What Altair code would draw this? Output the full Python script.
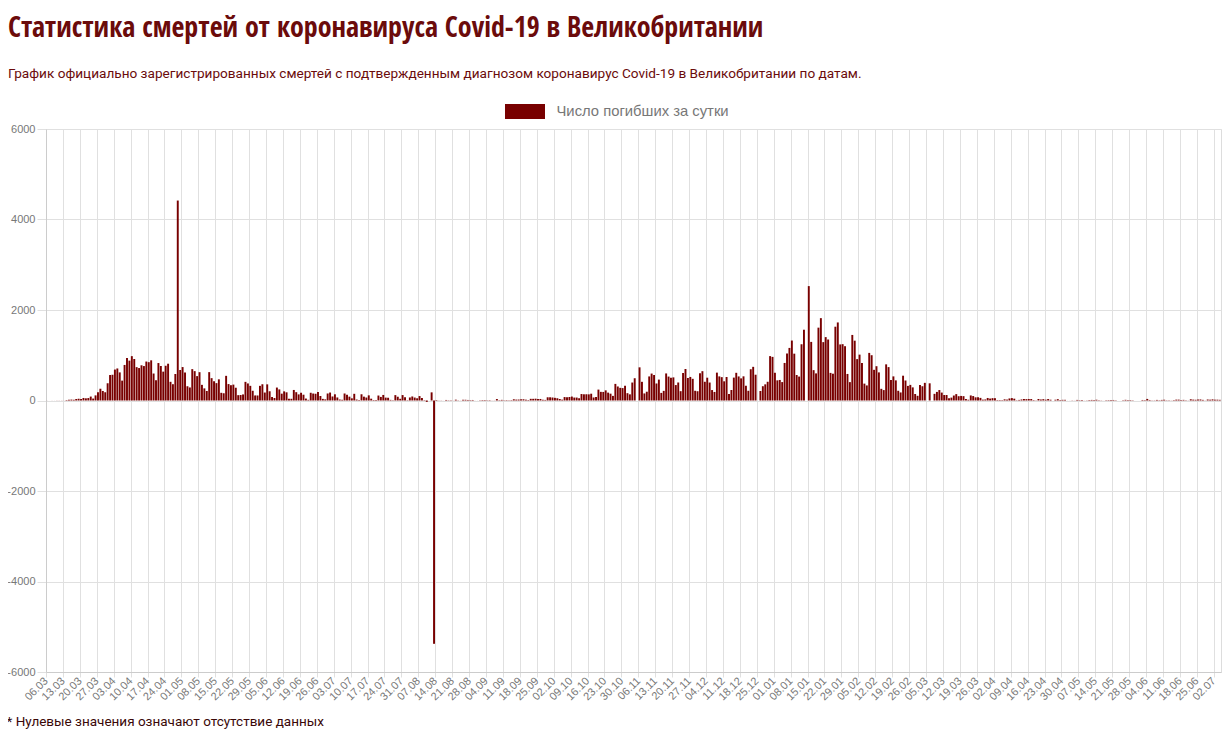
import json
import altair as alt
import pandas as pd

START_DATE = "2020-03-06"
SERIES_NAME = "Число погибших за сутки"
TITLE = "Статистика смертей от коронавируса Covid-19 в Великобритании"
SUBTITLE = ("График официально зарегистрированных смертей с подтвержденным диагнозом "
            "коронавирус Covid-19 в Великобритании по датам.")
FOOTNOTE = "* Нулевые значения означают отсутствие данных"

# daily deaths, one row per week (Friday .. Thursday), starting 06.03.2020
deaths_2020_spring = [
    1, 0, 1, 1, 2, 2, 2,
    1, 10, 14, 20, 16, 33, 40,
    33, 56, 48, 54, 87, 43, 113,
    181, 260, 209, 180, 381, 563, 569,
    684, 708, 621, 439, 786, 938, 881,
    980, 917, 737, 717, 778, 761, 861,
    847, 888, 596, 449, 828, 763, 638,
    768, 813, 413, 360, 586, 4419, 674,
    739, 621, 315, 288, 693, 649, 539,
    626, 346, 268, 210, 627, 494, 428,
    384, 468, 170, 160, 545, 363, 338,
    351, 282, 118, 121, 134, 412, 377,
    324, 215, 113, 111, 324, 359, 176,
]
deaths_2020_summer = [
    357, 204, 77, 55, 286, 245, 151,
    202, 181, 36, 38, 233, 184, 135,
    173, 128, 43, 15, 171, 154, 149,
    186, 100, 36, 25, 155, 176, 89,
    137, 67, 22, 16, 155, 126, 85,
    48, 148, 21, 11, 138, 85, 66,
    114, 40, 11, 11, 110, 79, 123,
    64, 61, 14, 7, 119, 83, 38,
    120, 74, 8, 67, 89, 65, 49,
    98, 55, 8, -30, 0, 180, -5377,
    11, 3, 3, 1, 12, 6, 6,
    2, 18, 5, 2, 16, 16, 12,
    9, 12, 1, 1, 3, 10, 10,
]
deaths_2020_autumn = [
    6, 8, 2, 3, 32, 8, 14,
    6, 9, 5, 9, 27, 20, 21,
    27, 27, 18, 11, 37, 37, 40,
    34, 34, 17, 13, 71, 71, 66,
    59, 49, 33, 19, 76, 70, 77,
    87, 65, 65, 50, 143, 137, 138,
    136, 150, 67, 80, 241, 191, 189,
    224, 174, 151, 102, 367, 310, 280,
    274, 326, 162, 136, 397, 492, 0,
    733, 413, 156, 194, 532, 595, 563,
    376, 462, 168, 213, 598, 529, 501,
    511, 341, 398, 206, 608, 696, 498,
    521, 479, 215, 205, 603, 648, 414,
    504, 397, 231, 189, 616, 533, 516,
    424, 519, 144, 232, 506, 612, 532,
    489, 534, 326, 215, 691, 744, 570,
    0, 210, 316, 357, 414, 981, 964,
]
deaths_2021_winter = [
    613, 445, 454, 407, 830, 1041, 1162,
    1325, 1035, 563, 529, 1243, 1564, 0,
    2528, 1295, 671, 599, 1610, 1820, 1290,
    1401, 1348, 610, 592, 1631, 1725, 1239,
    1245, 1200, 587, 406, 1449, 1322, 915,
    1014, 828, 373, 333, 1052, 1001, 678,
    758, 621, 258, 230, 799, 738, 454,
    533, 445, 215, 178, 548, 442, 323,
    345, 290, 144, 104, 343, 315, 390,
    0, 380, 0, 147, 190, 231, 175,
    121, 121, 52, 64, 110, 141, 95,
    101, 96, 33, 17, 112, 98, 70,
    70, 58, 19, 23, 56, 43, 52,
]
deaths_2021_spring = [
    51, 10, 10, 9, 26, 20, 45,
    53, 40, 7, 13, 23, 33, 30,
    34, 32, 10, 4, 33, 22, 29,
    18, 32, 17, 1, 17, 29, 11,
    15, 15, 1, 1, 4, 2, 13,
    8, 10, 2, 4, 10, 13, 11,
    17, 7, 4, 1, 7, 9, 9,
    12, 6, 0, 0, 7, 15, 10,
    10, 6, 0, 0, 0, 12, 9,
    35, 12, 4, 5, 13, 7, 13,
    17, 6, 8, 3, 9, 19, 19,
    11, 14, 6, 3, 27, 19, 16,
    21, 23, 14, 3, 22, 18, 25,
    18, 18, 15,
]

deaths = (deaths_2020_spring + deaths_2020_summer + deaths_2020_autumn
          + deaths_2021_winter + deaths_2021_spring)
n_days = len(deaths)

dates = pd.date_range(START_DATE, periods=n_days, freq="D")
tick_days = list(range(0, n_days, 7))
tick_labels = [dates[d].strftime("%d.%m") for d in tick_days]
y_ticks = [-6000, -4000, -2000, 0, 2000, 4000, 6000]

df = pd.DataFrame({
    "day": list(range(n_days)),
    "deaths": deaths,
    "date": [d.strftime("%d.%m.%Y") for d in dates],
})

NARROW = ("'Noto Sans ExtraCondensed', 'Noto Sans Condensed', 'Liberation Sans Narrow', "
          "'Ubuntu Condensed', 'Open Sans Condensed', Roboto")
TEXT_FONT = "Roboto, 'Liberation Sans', sans-serif"
SANS = "'Liberation Sans', Arial, sans-serif"
DARK_RED = "#6b0b0b"
BAR_RED = "#780000"
GRID = "#e0e0e0"

label_expr = json.dumps(tick_labels) + "[round(datum.value / 7)]"

chart = alt.Chart(df).mark_bar().transform_calculate(
    x0="datum.day + 0.1",
    x1="datum.day + 0.9",
    series="'" + SERIES_NAME + "'",
).encode(
    x=alt.X(
        "x0:Q",
        scale=alt.Scale(domain=[0, n_days], nice=False, zero=False),
        axis=alt.Axis(
            values=tick_days,
            labelExpr=label_expr,
            labelAngle=-45,
            labelAlign="right",
            labelBaseline="middle",
            labelPadding=2,
            labelOverlap=False,
            labelFont=SANS,
            labelFontSize=11,
            labelColor="#777777",
            grid=True,
            gridColor=GRID,
            tickColor=GRID,
            tickSize=5,
            domainColor="#cccccc",
            title=FOOTNOTE,
            titleX=-40,
            titleY=53,
            titleAlign="left",
            titleBaseline="alphabetic",
            titleAnchor="start",
            titleFont=TEXT_FONT,
            titleFontSize=13.5,
            titleFontWeight="normal",
            titleColor="#3a0808",
        ),
    ),
    x2="x1:Q",
    y=alt.Y(
        "deaths:Q",
        scale=alt.Scale(domain=[-6000, 6000], nice=False),
        axis=alt.Axis(
            values=y_ticks,
            labelExpr="'' + datum.value",
            labelFont=SANS,
            labelFontSize=11,
            labelColor="#777777",
            labelPadding=2,
            grid=True,
            gridColor=GRID,
            tickColor=GRID,
            tickSize=9,
            domainColor="#cccccc",
            title=None,
        ),
    ),
    y2=alt.datum(0),
    color=alt.Color(
        "series:N",
        scale=alt.Scale(range=[BAR_RED]),
        legend=alt.Legend(
            title=None,
            orient="none",
            legendX=471.5,
            legendY=-25,
            padding=0,
            symbolType="M-2.667,-1H2.667V1H-2.667Z",
            symbolSize=225,
            symbolStrokeWidth=0,
            symbolOpacity=1,
            labelFont=SANS,
            labelFontSize=14.8,
            labelColor="#777777",
            labelOffset=24,
            labelLimit=400,
        ),
    ),
    tooltip=["date:N", "deaths:Q"],
).properties(
    width=1175,
    height=543,
    title=alt.TitleParams(
        text=TITLE,
        subtitle=SUBTITLE,
        anchor="start",
        frame="group",
        dx=-38,
        dy=-3,
        offset=20,
        font=NARROW,
        fontSize=28,
        fontWeight="bold",
        color=DARK_RED,
        subtitleFont=TEXT_FONT,
        subtitleFontSize=13.6,
        subtitleFontWeight="normal",
        subtitleColor=DARK_RED,
        subtitlePadding=24,
    ),
    autosize=alt.AutoSizeParams(type="none"),
    padding={"left": 38, "top": 121, "right": 1, "bottom": 59},
).configure_view(
    strokeWidth=0,
).configure(
    background="white",
)

chart.save("out.html", embed_options={"renderer": "svg", "actions": False})
